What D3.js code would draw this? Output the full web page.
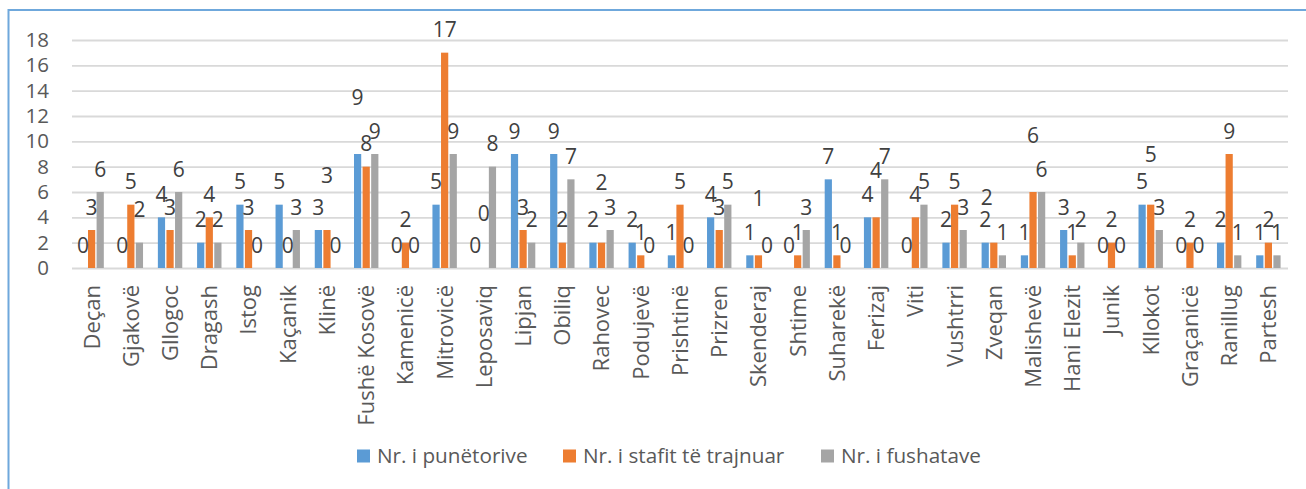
<!DOCTYPE html>
<html><head><meta charset="utf-8">
<script src="https://cdn.jsdelivr.net/npm/d3@7/dist/d3.min.js"></script>
<style>
html,body{margin:0;padding:0;background:#fff;}
svg{display:block;font-family:"Open Sans","Noto Sans",sans-serif;}
</style></head>
<body>
<svg id="chart" width="1306" height="489"></svg>
<script>
const categories = ["Deçan","Gjakovë","Gllogoc","Dragash","Istog","Kaçanik","Klinë","Fushë Kosovë","Kamenicë","Mitrovicë","Leposaviq","Lipjan","Obiliq","Rahovec","Podujevë","Prishtinë","Prizren","Skenderaj","Shtime","Suharekë","Ferizaj","Viti","Vushtrri","Zveqan","Malishevë","Hani Elezit","Junik","Kllokot","Graçanicë","Ranillug","Partesh"];
const seriesNames = ["Nr. i punëtorive","Nr. i stafit të trajnuar","Nr. i fushatave"];
const punetorive = [0,0,4,2,5,5,3,9,0,5,0,9,9,2,2,1,4,1,0,7,4,0,2,2,1,3,0,5,0,2,1];
const stafit     = [3,5,3,4,3,0,3,8,2,17,0,3,2,2,1,5,3,1,1,1,4,4,5,2,6,1,2,5,2,9,2];
const fushatave  = [6,2,6,2,0,3,0,9,0,9,8,2,7,3,0,0,5,0,3,0,7,5,3,1,6,2,0,3,0,1,1];
const yTicks = [0,2,4,6,8,10,12,14,16,18];
const seriesValues = [punetorive, stafit, fushatave];
const colors = ["#5B9BD5","#ED7D31","#A5A5A5"];

// manual label displacements (layout only): key "category|seriesIndex" -> [dx, extra lift]
const labelNudge = {
  "Gjakovë|2":[0,10], "Klinë|1":[0,32], "Fushë Kosovë|0":[0,34], "Leposaviq|1":[0,32],
  "Rahovec|1":[0,37], "Skenderaj|1":[0,34], "Ferizaj|1":[0,24], "Zveqan|1":[-7,22],
  "Malishevë|1":[0,34], "Kllokot|1":[0,27]
};

const svg = d3.select("#chart");
const pLeft = 72, pRight = 1288, pTop = 40, pBottom = 268;

// outer border
svg.append("rect").attr("x",8.5).attr("y",10).attr("width",1320).attr("height",500)
  .attr("fill","none").attr("stroke","#6FA8DC").attr("stroke-width",2);

const x0 = d3.scaleBand().domain(categories).range([pLeft,pRight]).paddingInner(0.378).paddingOuter(0.189);
const x1 = d3.scaleBand().domain([0,1,2]).range([0,x0.bandwidth()]).paddingInner(0.16).paddingOuter(0);
const y = d3.scaleLinear().domain([0,18]).range([pBottom,pTop]);

// gridlines
const yAxis = d3.axisLeft(y).tickValues(yTicks).tickSize(-(pRight-pLeft)).tickPadding(23);
const gy = svg.append("g").attr("transform",`translate(${pLeft},0)`).call(yAxis);
gy.select(".domain").remove();
gy.selectAll(".tick line").attr("stroke","#D9D9D9").attr("stroke-width",1.8);
gy.selectAll(".tick text").attr("fill","#595959").style("font-size","20.5px").attr("font-family","Open Sans");

// bars
const rows = [];
categories.forEach((c,i)=>{ seriesValues.forEach((arr,s)=>rows.push({c,s,v:arr[i]})); });
svg.append("g").selectAll("rect").data(rows).join("rect")
  .attr("x",d=>x0(d.c)+x1(d.s))
  .attr("y",d=>y(d.v))
  .attr("width",x1.bandwidth())
  .attr("height",d=>y(0)-y(d.v))
  .attr("fill",d=>colors[d.s]);

// data labels
svg.append("g").selectAll("text").data(rows).join("text")
  .attr("x",d=>x0(d.c)+x1(d.s)+x1.bandwidth()/2 + ((labelNudge[d.c+"|"+d.s]||[0,0])[0]))
  .attr("y",d=>y(d.v)-23-((labelNudge[d.c+"|"+d.s]||[0,0])[1]))
  .attr("dy","0.36em")
  .attr("text-anchor","middle")
  .attr("fill","#404040")
  .style("font-size","21px")
  .text(d=>d.v);

// category axis labels
const xAxis = d3.axisBottom(x0).tickSize(0).tickPadding(0);
const gx = svg.append("g").attr("transform",`translate(0,${pBottom})`).call(xAxis);
gx.select(".domain").remove();
gx.selectAll(".tick text")
  .attr("transform","rotate(-90)")
  .attr("x",-17).attr("y",0).attr("dy","0.36em")
  .attr("text-anchor","end")
  .attr("fill","#595959")
  .attr("font-family","Open Sans")
  .style("font-size","22px");

// legend
const legendX = [357,563,821];
const lg = svg.append("g");
seriesNames.forEach((n,i)=>{
  lg.append("rect").attr("x",legendX[i]).attr("y",449.5).attr("width",13).attr("height",13).attr("fill",colors[i]);
  lg.append("text").attr("x",legendX[i]+20).attr("y",456).attr("dy","0.36em")
    .attr("fill","#595959").style("font-size","20.7px").text(n);
});
</script>
</body></html>
